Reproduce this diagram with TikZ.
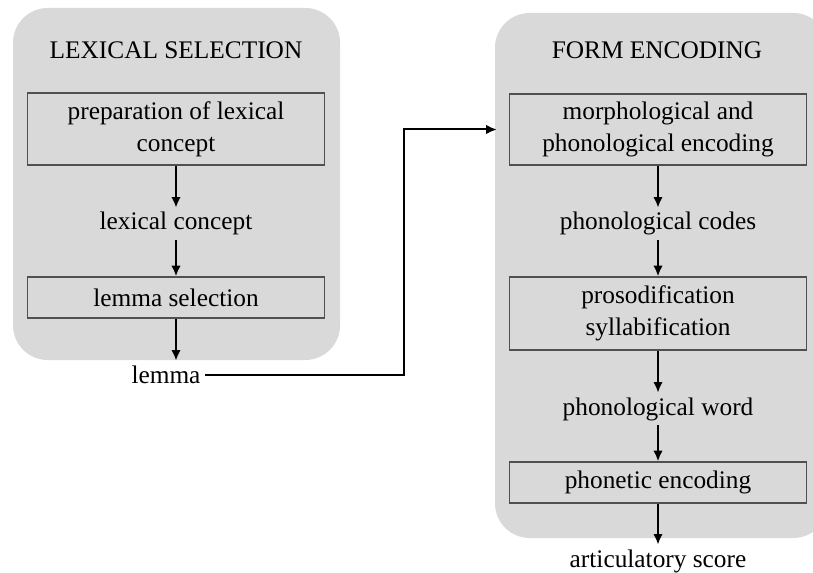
\documentclass[tikz,border=0pt]{standalone}
\usepackage{fontspec}
\setmainfont{Liberation Serif}
\usetikzlibrary{arrows.meta}
\definecolor{panelgray}{RGB}{217,217,217}
\definecolor{boxline}{RGB}{80,80,80}

\begin{document}
\begin{tikzpicture}[x=0.75pt,y=-0.75pt,
    font=\fontsize{19}{24}\selectfont,
    panel/.style={fill=panelgray, rounded corners=26pt},
    stage/.style={draw=boxline, line width=0.9pt, fill=panelgray, minimum width=222.75pt, align=center, inner sep=0pt},
    item/.style={anchor=base},
    flow/.style={-{Latex[length=8pt,width=7pt]}, line width=1.5pt}]
    \useasboundingbox (0,0) rectangle (813,573);
    \clip (0,0) rectangle (813,573);
    % the two panels
    \fill[panel] (13,8) rectangle (340,360);
    \fill[panel] (495,13) rectangle (828,538);

    % lexical selection
    \node[item] (lsTitle) at (176,59) {LEXICAL SELECTION};
    \node[stage, minimum height=54pt] (prep) at (176,129) {preparation of lexical\\concept};
    \node[item] (lexcon) at (176,230) {lexical concept};
    \node[stage, minimum height=30.75pt] (lsel) at (176,297.5) {lemma selection};
    \node[item] (lemma) at (166,383) {lemma};

    % form encoding
    \node[item] (feTitle) at (657,59) {FORM ENCODING};
    \node[stage, minimum height=53.25pt] (morph) at (658,129.5) {morphological and\\phonological encoding};
    \node[item] (codes) at (658,230) {phonological codes};
    \node[stage, minimum height=54.75pt] (proso) at (658,313.5) {prosodification\\syllabification};
    \node[item] (pword) at (658,415) {phonological word};
    \node[stage, minimum height=30.75pt] (phon) at (658,482.5) {phonetic encoding};
    \node[item] (artic) at (658,567) {articulatory score};

    \foreach \a/\b in {prep/lexcon, lexcon/lsel, lsel/lemma, morph/codes, codes/proso, proso/pword, pword/phon, phon/artic}
      \draw[flow] (\a.south) -- (\a.south |- \b.north);

    \coordinate (turn) at (404,375);
    \draw[flow] (lemma.east |- turn) -- (turn) |- ([xshift=-9pt]morph.west);
  \end{tikzpicture}
\end{document}
